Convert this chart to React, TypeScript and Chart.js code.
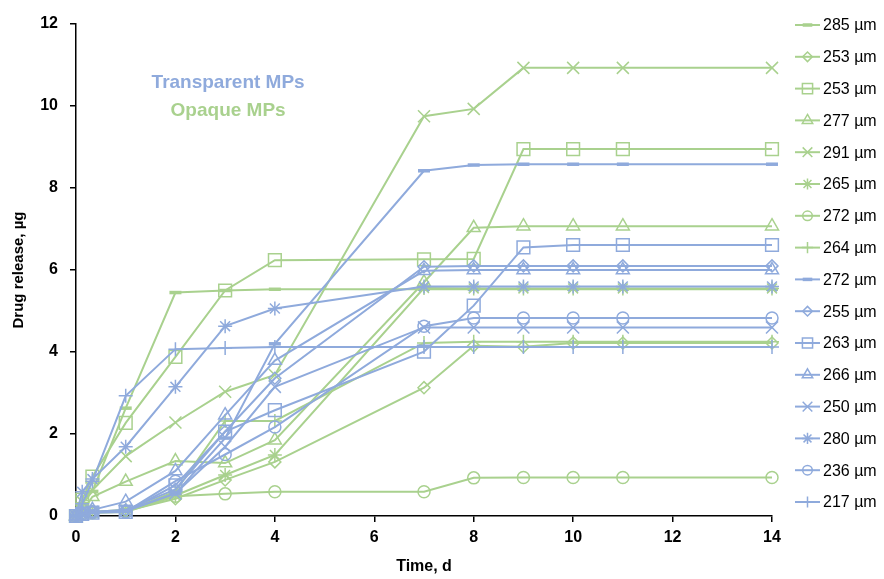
import React, { useEffect, useRef } from "react";
import { Chart, registerables, PointElement } from "chart.js";

Chart.register(...registerables);

// ---- data ----
const times = [0, 0.125, 0.33, 1, 2, 3, 4, 7, 8, 9, 10, 11, 14];

const seriesLabels = [
  "285 µm", "253 µm", "253 µm", "277 µm", "291 µm", "265 µm", "272 µm", "264 µm",
  "272 µm", "255 µm", "263 µm", "266 µm", "250 µm", "280 µm", "236 µm", "217 µm",
];

// Opaque MPs (green)
const g285 = [0, 0.3, 0.6, 2.63, 5.45, 5.5, 5.53, 5.53, 5.53, 5.53, 5.53, 5.53, 5.53];
const g253d = [0, 0.05, 0.1, 0.12, 0.42, 0.88, 1.32, 3.13, 4.15, 4.13, 4.22, 4.22, 4.22];
const g253s = [0, 0.4, 0.96, 2.27, 3.88, 5.5, 6.24, 6.26, 6.27, 8.95, 8.95, 8.95, 8.95];
const g277 = [0, 0.1, 0.47, 0.84, 1.34, 1.29, 1.85, 5.7, 7.03, 7.07, 7.07, 7.07, 7.07];
const g291 = [0, 0.35, 0.63, 1.46, 2.28, 3.03, 3.44, 9.75, 9.93, 10.93, 10.93, 10.93, 10.93];
const g265 = [0, 0.05, 0.1, 0.15, 0.5, 1.0, 1.49, 5.56, 5.55, 5.55, 5.55, 5.55, 5.55];
const g272c = [0, 0.05, 0.08, 0.1, 0.48, 0.54, 0.59, 0.59, 0.93, 0.94, 0.94, 0.94, 0.94];
const g264 = [0, 0.05, 0.1, 0.12, 0.6, 2.32, 2.32, 4.22, 4.25, 4.25, 4.25, 4.25, 4.25];

// Transparent MPs (blue)
const b272d = [0, 0.05, 0.1, 0.12, 0.55, 1.9, 4.2, 8.42, 8.56, 8.58, 8.58, 8.58, 8.58];
const b255 = [0, 0.05, 0.1, 0.15, 0.65, 2.06, 3.36, 6.08, 6.1, 6.1, 6.1, 6.1, 6.1];
const b263 = [0, 0.05, 0.08, 0.1, 0.75, 2.06, 2.58, 4.01, 5.13, 6.55, 6.61, 6.61, 6.61];
const b266 = [0, 0.08, 0.15, 0.35, 1.1, 2.46, 3.79, 5.98, 6.0, 6.0, 6.0, 6.0, 6.0];
const b250 = [0, 0.05, 0.1, 0.12, 0.55, 1.69, 3.15, 4.6, 4.6, 4.6, 4.6, 4.6, 4.6];
const b280 = [0, 0.59, 0.9, 1.69, 3.15, 4.63, 5.06, 5.6, 5.6, 5.6, 5.6, 5.6, 5.6];
const b236 = [0, 0.05, 0.1, 0.1, 0.85, 1.5, 2.17, 4.63, 4.83, 4.83, 4.83, 4.83, 4.83];
const b217 = [0, 0.3, 0.85, 2.93, 4.07, 4.1, 4.12, 4.12, 4.12, 4.12, 4.12, 4.12, 4.12];

const seriesValues = [g285, g253d, g253s, g277, g291, g265, g272c, g264, b272d, b255, b263, b266, b250, b280, b236, b217];

const xTicks = [0, 2, 4, 6, 8, 10, 12, 14];
const yTicks = [0, 2, 4, 6, 8, 10, 12];

const groupTexts = ["Transparent MPs", "Opaque MPs"];
const groupTextX = [3.06, 3.06];
const groupTextY = [10.56, 9.88];

// ---- styles ----
const GREEN = "#A9D18E";
const BLUE = "#8FAADC";
const FONT = '"Liberation Sans", Arial, sans-serif';

type Marker = { style: string; radius: number; width: number };
const markerSet: Marker[] = [
  { style: "line", radius: 6, width: 3.5 },
  { style: "rectRot", radius: 6, width: 1.5 },
  { style: "rect", radius: 9, width: 1.5 },
  { style: "triangle", radius: 7.5, width: 1.5 },
  { style: "crossRot", radius: 8.5, width: 1.5 },
  { style: "star", radius: 7, width: 1.5 },
  { style: "circle", radius: 6, width: 1.5 },
  { style: "cross", radius: 7, width: 1.5 },
];

const legendPlugin = {
  id: "sideLegend",
  afterDraw(chart: any) {
    const ctx = chart.ctx;
    const area = chart.chartArea;
    const x0 = area.right + 23;
    const step = 31.8;
    chart.data.datasets.forEach((ds: any, i: number) => {
      const y = area.top + 1 + step * i;
      ctx.save();
      ctx.strokeStyle = ds.borderColor;
      ctx.lineWidth = ds.borderWidth;
      ctx.beginPath();
      ctx.moveTo(x0, y);
      ctx.lineTo(x0 + 25, y);
      ctx.stroke();
      const p = new (PointElement as any)({
        x: x0 + 12.5,
        y,
        options: {
          pointStyle: ds.pointStyle,
          radius: ds.pointRadius * 0.8,
          rotation: 0,
          borderWidth: ds.pointBorderWidth,
          borderColor: ds.borderColor,
          backgroundColor: "rgba(0,0,0,0)",
        },
      });
      p.draw(ctx, { left: -1e4, top: -1e4, right: 1e4, bottom: 1e4 });
      ctx.fillStyle = "#000";
      ctx.font = `16px ${FONT}`;
      ctx.textBaseline = "middle";
      ctx.textAlign = "left";
      ctx.fillText(ds.label, x0 + 28, y + 1);
      ctx.restore();
    });
  },
};

const groupTextPlugin = {
  id: "groupText",
  afterDraw(chart: any) {
    const ctx = chart.ctx;
    const xs = chart.scales.x;
    const ys = chart.scales.y;
    const colors = [BLUE, GREEN];
    ctx.save();
    ctx.font = `bold 19px ${FONT}`;
    ctx.textAlign = "center";
    ctx.textBaseline = "middle";
    groupTexts.forEach((t, i) => {
      ctx.fillStyle = colors[i];
      ctx.fillText(t, xs.getPixelForValue(groupTextX[i]), ys.getPixelForValue(groupTextY[i]));
    });
    ctx.restore();
  },
};

export default function App() {
  const ref = useRef<HTMLCanvasElement | null>(null);

  useEffect(() => {
    if (!ref.current) return;
    const datasets = seriesValues.map((vals, i) => {
      const m = markerSet[i % 8];
      const color = i < 8 ? GREEN : BLUE;
      return {
        label: seriesLabels[i],
        data: times.map((t, j) => ({ x: t, y: vals[j] })),
        borderColor: color,
        backgroundColor: color,
        borderWidth: 2,
        pointStyle: m.style,
        pointRadius: m.radius,
        pointHoverRadius: m.radius,
        pointBorderWidth: m.width,
        pointBackgroundColor: "rgba(0,0,0,0)",
        pointBorderColor: color,
        tension: 0,
        clip: false,
        order: 100 - i,
      };
    });

    const chart = new Chart(ref.current, {
      type: "line",
      data: { datasets } as any,
      options: {
        animation: false,
        responsive: true,
        maintainAspectRatio: false,
        layout: { padding: { top: 24, right: 112, left: 0, bottom: 0 } },
        plugins: {
          legend: { display: false },
          tooltip: { enabled: false },
        },
        scales: {
          x: {
            type: "linear",
            min: 0,
            max: 14,
            afterBuildTicks: (s: any) => {
              s.ticks = xTicks.map((v) => ({ value: v }));
            },
            afterFit: (s: any) => {
              s.height = 63;
            },
            ticks: {
              color: "#000",
              font: { family: FONT, size: 16, weight: "bold" },
              padding: 6,
              maxRotation: 0,
            },
            grid: { drawOnChartArea: false, drawTicks: true, tickLength: 6, color: "#000", lineWidth: 1.5 },
            border: { display: true, color: "#000", width: 1.5 },
            title: {
              display: true,
              text: "Time, d",
              color: "#000",
              font: { family: FONT, size: 16, weight: "bold" },
              padding: { top: 0, bottom: 3 },
            },
          },
          y: {
            type: "linear",
            min: 0,
            max: 12,
            afterBuildTicks: (s: any) => {
              s.ticks = yTicks.map((v) => ({ value: v }));
            },
            afterFit: (s: any) => {
              s.width = 76;
            },
            ticks: {
              color: "#000",
              font: { family: FONT, size: 16, weight: "bold" },
              padding: 12,
            },
            grid: { drawOnChartArea: false, drawTicks: true, tickLength: 6, color: "#000", lineWidth: 1.5 },
            border: { display: true, color: "#000", width: 1.5 },
            title: {
              display: true,
              text: "Drug release, µg",
              color: "#000",
              font: { family: FONT, size: 15, weight: "bold" },
              padding: { top: 10, bottom: 0 },
            },
          },
        },
      } as any,
      plugins: [legendPlugin, groupTextPlugin],
    });
    return () => chart.destroy();
  }, []);

  return (
    <div style={{ position: "absolute", left: 0, top: 0, width: 884, height: 579, background: "#fff" }}>
      <canvas ref={ref} />
    </div>
  );
}
